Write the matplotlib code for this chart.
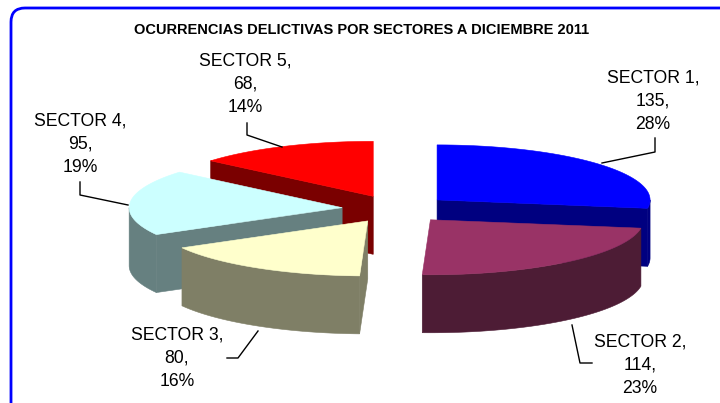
import numpy as np
import matplotlib
matplotlib.use("Agg")
import matplotlib.pyplot as plt
from matplotlib.patches import Polygon, FancyBboxPatch

# ---- data ----
categories = ["SECTOR 1", "SECTOR 2", "SECTOR 3", "SECTOR 4", "SECTOR 5"]
values = [135, 114, 80, 95, 68]
pct_labels = ["28%", "23%", "16%", "19%", "14%"]
title = "OCURRENCIAS DELICTIVAS POR SECTORES A DICIEMBRE 2011"

top_colors = ["#0000FF", "#993366", "#FFFFCC", "#CCFFFF", "#FF0000"]
side_colors = ["#000080", "#4d1c35", "#7f7f66", "#668080", "#7a0000"]

# ---- layout (pixel-like units) ----
CX, CY = 396, 209      # pie centre on screen
RX, RY = 213, 55       # ellipse radii of the top face
H = 58                 # thickness
EXPL = 0.254           # explosion fraction

fig = plt.figure(figsize=(7.2, 4.03), dpi=100)
ax = fig.add_axes([0, 0, 1, 1])
ax.set_xlim(0, 720)
ax.set_ylim(403, 0)
ax.axis("off")

# rounded border
border = FancyBboxPatch((11, 8), 740, 420, boxstyle="round,pad=0,rounding_size=14",
                        fc="white", ec="#0000FF", lw=2, zorder=0)
ax.add_patch(border)


def proj(ox, oy, t, r=1.0, z=0.0):
    return (ox + RX * r * np.cos(t), oy - RY * r * np.sin(t) + z)


total = float(sum(values))
angles = []
a = 90.0
for v in values:
    span = v / total * 360.0
    angles.append((a, a - span))
    a -= span

# draw order: back to front
mids = [np.deg2rad((a1 + a2) / 2) for a1, a2 in angles]
order = sorted(range(len(values)), key=lambda i: -np.sin(mids[i]))

z = 1
for i in order:
    a1, a2 = angles[i]
    m = mids[i]
    ox = CX + EXPL * RX * np.cos(m)
    oy = CY - EXPL * RY * np.sin(m)
    t1, t2 = np.deg2rad(a1), np.deg2rad(a2)
    faces = []
    # radial walls
    if np.cos(t1) < -1e-6:
        p = proj(ox, oy, t1)
        faces.append([(ox, oy), p, (p[0], p[1] + H), (ox, oy + H)])
    if np.cos(t2) > 1e-6:
        p = proj(ox, oy, t2)
        faces.append([(ox, oy), p, (p[0], p[1] + H), (ox, oy + H)])
    # outer wall (front-facing part)
    lo, hi = a2, a1
    for k in range(-1, 2):
        s_lo = max(lo, -180 + 360 * k)
        s_hi = min(hi, 0 + 360 * k)
        if s_hi > s_lo:
            ts = np.deg2rad(np.linspace(s_lo, s_hi, 80))
            top = [proj(ox, oy, t) for t in ts]
            bot = [proj(ox, oy, t, z=H) for t in ts[::-1]]
            faces.append(top + bot)
    for f in faces:
        ax.add_patch(Polygon(f, closed=True, fc=side_colors[i], ec=side_colors[i],
                             lw=0.4, zorder=z))
        z += 1
    ts = np.deg2rad(np.linspace(a1, a2, 120))
    topface = [(ox, oy)] + [proj(ox, oy, t) for t in ts]
    ax.add_patch(Polygon(topface, closed=True, fc=top_colors[i], ec=top_colors[i],
                         lw=0.4, zorder=z))
    z += 1

# ---- labels ----
label_pos = [(653, 101), (640, 365), (177, 358), (80, 144), (245, 84)]
leaders = [
    [(655, 138), (655, 152), (602, 163)],
    [(572, 325), (580, 363), (592, 363)],
    [(258, 331), (238, 358), (227, 358)],
    [(80, 182), (80, 195), (128, 205)],
    [(247, 123), (247, 135), (282, 147)],
]
for i in range(len(values)):
    txt = f"{categories[i]},\n{values[i]},\n{pct_labels[i]}"
    ax.text(label_pos[i][0], label_pos[i][1], txt, ha="center", va="center",
            fontsize=12.7, family="Liberation Sans", linespacing=1.48, zorder=100)
    xs, ys = zip(*leaders[i])
    ax.plot(xs, ys, color="black", lw=1, zorder=100)

ax.text(362, 30, title, ha="center", va="center", fontsize=10.5,
        fontweight="bold", family="Liberation Sans", zorder=100)

fig.savefig("out.png", dpi=100)
